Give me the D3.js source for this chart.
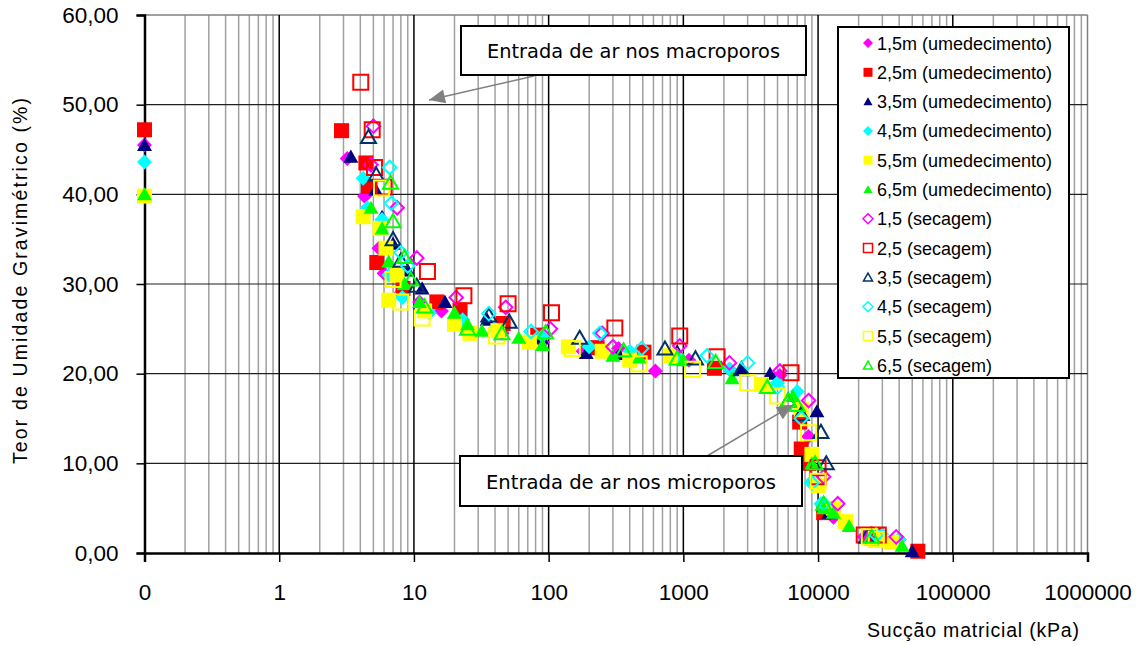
<!DOCTYPE html>
<html><head><meta charset="utf-8">
<script src="https://cdn.jsdelivr.net/npm/d3@7"></script>
<style>
html,body{margin:0;padding:0;background:#fff;}
svg{display:block;}
</style></head>
<body>
<svg id="chart" width="1146" height="646"></svg>
<script>
// ---- Data ----
const xTickValues = [0.1, 1, 10, 100, 1000, 10000, 100000, 1000000];
const xTickLabels = ["0", "1", "10", "100", "1000", "10000", "100000", "1000000"];
const yTickValues = [0, 10, 20, 30, 40, 50, 60];

const seriesNames = [
  "1,5m (umedecimento)", "2,5m (umedecimento)", "3,5m (umedecimento)",
  "4,5m (umedecimento)", "5,5m (umedecimento)", "6,5m (umedecimento)",
  "1,5 (secagem)", "2,5 (secagem)", "3,5 (secagem)",
  "4,5 (secagem)", "5,5 (secagem)", "6,5 (secagem)"
];

const s1_umed = [[0.1,45.5],[3.2,44.0],[4.3,39.8],[5.5,34.0],[6.0,31.2],[8,29.0],[11,28.0],[16,27.0],[25,25.0],[45,24.5],[90,23.5],[180,22.5],[330,22.8],[620,20.3],[1100,21.5],[2200,20.5],[5200,19.8],[8500,13.0],[11000,5.0],[13000,4.0],[22000,1.8],[40000,1.5]];
const s2_umed = [[0.1,47.2],[2.9,47.1],[4.4,43.5],[4.6,40.9],[5.3,32.4],[8.3,29.5],[14.8,28.0],[22,27.1],[46,25.6],[83,24.3],[229,22.9],[510,22.4],[1700,20.6],[7300,14.6],[7500,11.6],[8500,10.0],[11000,4.5],[27000,2.0],[55000,0.2]];
const s3_umed = [[0.1,45.5],[3.4,44.2],[5.2,40.5],[5.8,37.5],[7,34.5],[9,31.5],[11.5,29.5],[17,28.0],[35,26.0],[88,24.0],[190,22.3],[330,22.2],[900,22.5],[2700,20.5],[4400,20.0],[9800,15.8],[12000,4.5],[27000,1.5],[50000,0.2]];
const s4_umed = [[0.1,43.6],[4.2,41.8],[4.5,38.5],[5.8,37.2],[6.5,31.0],[8.2,28.5],[13,26.8],[23,26.0],[40,25.0],[90,24.2],[200,23.0],[400,22.5],[900,22.0],[2200,20.5],[5000,19.0],[7000,18.0],[9000,8.0],[10500,5.5],[13000,5.0],[30000,2.0],[40000,1.5]];
const s5_umed = [[0.1,39.8],[4.2,37.5],[5.6,36.2],[6.2,34.0],[6.5,28.2],[7.5,31.0],[12,27.0],[20,25.5],[26,24.5],[42,24.8],[72,23.5],[140,23.0],[250,22.5],[400,21.5],[800,22.0],[3800,18.8],[7500,16.0],[9000,11.0],[10000,7.5],[13000,5.0],[16000,3.5],[27000,1.5],[35000,1.2]];
const s6_umed = [[0.1,40.0],[4.8,38.5],[5.8,36.2],[6.5,32.5],[8.5,30.0],[11,28.0],[20,26.8],[25,25.5],[32,24.8],[60,24.0],[90,23.2],[300,22.0],[470,21.8],[1000,21.5],[2300,19.5],[6500,17.5],[9000,10.0],[11000,5.0],[13000,4.5],[17000,3.0],[25000,1.5],[42000,0.8]];
const s1_sec = [[5.0,47.6],[4.8,43.3],[7.5,38.5],[10.5,32.9],[20.6,28.5],[48,27.4],[103,25.0],[250,24.5],[300,23.0],[940,23.1],[2200,21.2],[5200,20.3],[8500,17.0],[11000,8.5],[14000,5.5],[24000,2.0],[38000,1.8]];
const s2_sec = [[4.03,52.5],[4.9,47.2],[5.1,43.0],[6.0,40.8],[12.6,31.4],[23.5,28.7],[50,27.8],[105,26.8],[310,25.1],[940,24.2],[1780,21.9],[6300,20.1],[10000,9.5],[10000,8.5],[22000,2.0],[28000,2.0]];
const s3_sec = [[4.6,46.4],[5.25,42.2],[7.0,35.0],[8.0,32.6],[10.5,29.8],[36,26.5],[51,25.8],[170,24.0],[730,22.8],[1230,21.7],[2700,20.5],[6000,17.0],[7500,15.5],[10500,13.5],[11500,10.0],[23000,1.8]];
const s4_sec = [[6.6,43.0],[6.8,39.0],[8.0,33.5],[9.0,32.0],[36,26.7],[74,24.7],[240,24.5],[490,22.8],[1500,22.0],[3000,21.2],[5000,18.5],[7500,15.0],[9000,7.8],[11000,5.5],[27000,2.0]];
const s5_sec = [[5.75,40.7],[7.0,30.5],[8.0,28.0],[11.5,26.2],[41,24.2],[150,22.8],[470,21.1],[1170,20.5],[3000,19.0],[5000,17.5],[8500,13.4],[10000,8.0],[24000,1.8],[27000,1.5]];
const s6_sec = [[6.7,41.3],[7.0,37.0],[8.5,33.0],[9.5,30.5],[12,27.5],[25,25.0],[45,24.5],[95,24.6],[360,22.6],[900,21.7],[1740,21.3],[4200,18.5],[6000,17.0],[7000,16.5],[9500,10.0],[11000,5.5],[25000,1.8]];

const seriesData = [s1_umed, s2_umed, s3_umed, s4_umed, s5_umed, s6_umed,
                    s1_sec, s2_sec, s3_sec, s4_sec, s5_sec, s6_sec];
const seriesColors = ["#FF00FF","#FF0000","#000080","#00FFFF","#FFFF00","#00FF00",
                      "#FF00FF","#FF0000","#003366","#00FFFF","#FFFF00","#00FF00"];
const seriesShapes = ["diamond","square","triangle","diamond","square","triangle",
                      "diamond","square","triangle","diamond","square","triangle"];
const seriesFilled = [true,true,true,true,true,true,false,false,false,false,false,false];

// ---- Layout ----
const svg = d3.select("#chart");
const L = 144.5, R = 1087.5, T = 15, B = 553;
const x = d3.scaleLog().domain([0.1, 1e6]).range([L, R]);
const y = d3.scaleLinear().domain([0, 60]).range([B, T]);
const locale = d3.formatLocale({decimal: ",", thousands: ".", grouping: [3], currency: ["", ""]});
const yFmt = locale.format(".2f");
const FONT = "Liberation Sans, Arial, sans-serif";

function shapePath(kind, s) {
  const h = s / 2;
  if (kind === "square") return `M${-h},${-h}H${h}V${h}H${-h}Z`;
  if (kind === "diamond") return `M0,${-h}L${h},0L0,${h}L${-h},0Z`;
  return `M0,${-h*0.95}L${h},${h*0.8}L${-h},${h*0.8}Z`;
}

// minor gridlines
const minor = [];
for (let e = -1; e < 6; e++) for (let k = 2; k <= 9; k++) minor.push(k * Math.pow(10, e));
svg.append("g").selectAll("line").data(minor).join("line")
  .attr("x1", d => x(d)).attr("x2", d => x(d)).attr("y1", T).attr("y2", B)
  .attr("stroke", "#a0a0a0").attr("stroke-width", 1.5);

svg.append("line").attr("x1", L).attr("x2", R).attr("y1", T).attr("y2", T)
  .attr("stroke", "#808080").attr("stroke-width", 1.5);
svg.append("line").attr("x1", R).attr("x2", R).attr("y1", T).attr("y2", B)
  .attr("stroke", "#808080").attr("stroke-width", 1.5);

svg.append("g").selectAll("line").data(yTickValues.filter(v => v > 0 && v < 60)).join("line")
  .attr("x1", L).attr("x2", R).attr("y1", d => y(d)).attr("y2", d => y(d))
  .attr("stroke", "#202020").attr("stroke-width", 1.2);

svg.append("g").selectAll("line").data(xTickValues.filter(v => v > 0.1 && v < 1e6)).join("line")
  .attr("x1", d => x(d)).attr("x2", d => x(d)).attr("y1", T).attr("y2", B)
  .attr("stroke", "#000").attr("stroke-width", 1.5);

// axes
const xAxis = d3.axisBottom(x).tickValues(xTickValues)
  .tickFormat((d, i) => xTickLabels[i]).tickSize(9).tickPadding(22);
const gx = svg.append("g").attr("transform", `translate(0,${B})`).call(xAxis);
gx.select(".domain").attr("stroke", "#000").attr("stroke-width", 2.5);
gx.selectAll(".tick line").attr("stroke", "#000").attr("stroke-width", 1.5);
gx.selectAll("text").attr("font-family", FONT).attr("font-size", 22.5).attr("fill", "#000");

const yAxis = d3.axisLeft(y).tickValues(yTickValues).tickFormat(yFmt).tickSize(8).tickPadding(18);
const gy = svg.append("g").attr("transform", `translate(${L},0)`).call(yAxis);
gy.select(".domain").attr("stroke", "#000").attr("stroke-width", 2.5);
gy.selectAll(".tick line").attr("stroke", "#000").attr("stroke-width", 1.5);
gy.selectAll("text").attr("font-family", FONT).attr("font-size", 22.5).attr("fill", "#000");

// axis titles
svg.append("text").attr("transform", "translate(27,281) rotate(-90)")
  .attr("text-anchor", "middle").attr("font-family", FONT)
  .attr("font-size", 19.5).attr("fill", "#000")
  .attr("textLength", 366).attr("lengthAdjust", "spacing")
  .text("Teor de Umidade Gravimétrico (%)");
svg.append("text").attr("x", 973).attr("y", 637)
  .attr("text-anchor", "middle").attr("font-family", FONT)
  .attr("font-size", 19.5).attr("fill", "#000")
  .attr("textLength", 212).attr("lengthAdjust", "spacing")
  .text("Sucção matricial (kPa)");

// data points
const gPts = svg.append("g");
seriesData.forEach((data, i) => {
  const filled = seriesFilled[i];
  const size = seriesShapes[i] === "diamond" ? (filled ? 15 : 13.5) : 15;
  gPts.append("g").selectAll("path").data(data).join("path")
    .attr("transform", d => `translate(${x(d[0])},${y(d[1])})`)
    .attr("d", shapePath(seriesShapes[i], size))
    .attr("fill", filled ? seriesColors[i] : "none")
    .attr("stroke", filled ? "none" : seriesColors[i])
    .attr("stroke-width", filled ? 0 : 2);
});

// annotations
function annotate(box, label, from, to) {
  const g = svg.append("g");
  g.append("line").attr("x1", from[0]).attr("y1", from[1]).attr("x2", to[0]).attr("y2", to[1])
    .attr("stroke", "#808080").attr("stroke-width", 1.5);
  const ang = Math.atan2(to[1] - from[1], to[0] - from[0]);
  const len = 16, wid = 7;
  const bx = to[0] - len * Math.cos(ang), by = to[1] - len * Math.sin(ang);
  const px = -Math.sin(ang) * wid, py = Math.cos(ang) * wid;
  g.append("path").attr("d", `M${to[0]},${to[1]}L${bx+px},${by+py}L${bx-px},${by-py}Z`)
    .attr("fill", "#808080");
  g.append("rect").attr("x", box[0]).attr("y", box[1]).attr("width", box[2]).attr("height", box[3])
    .attr("fill", "#fff").attr("stroke", "#000").attr("stroke-width", 2);
  g.append("text").attr("x", box[0] + box[2] / 2).attr("y", box[1] + box[3] / 2 + 7.5)
    .attr("text-anchor", "middle").attr("font-family", "DejaVu Sans Condensed, DejaVu Sans, sans-serif")
    .attr("font-size", 20).attr("fill", "#000")
    .attr("textLength", box[2] - 52).attr("lengthAdjust", "spacingAndGlyphs").text(label);
}
annotate([461, 26, 345, 49], "Entrada de ar nos macroporos", [534, 76], [429, 100]);
annotate([460, 456, 342, 50], "Entrada de ar nos microporos", [707, 456], [793, 405]);

// legend
const lg = svg.append("g");
lg.append("rect").attr("x", 838).attr("y", 27).attr("width", 231).attr("height", 351)
  .attr("fill", "#fff").attr("stroke", "#000").attr("stroke-width", 2);
seriesNames.forEach((name, i) => {
  const cy = 43 + i * 29.3;
  const filled = seriesFilled[i];
  lg.append("path").attr("transform", `translate(868,${cy})`)
    .attr("d", shapePath(seriesShapes[i], seriesShapes[i] === "diamond" ? 10 : 9))
    .attr("fill", filled ? seriesColors[i] : "#fff")
    .attr("stroke", filled ? "none" : seriesColors[i]).attr("stroke-width", filled ? 0 : 1.5);
  lg.append("text").attr("x", 877).attr("y", cy + 6.5)
    .attr("font-family", FONT).attr("font-size", 18)
    .attr("fill", "#000").text(name);
});
</script>
</body></html>
